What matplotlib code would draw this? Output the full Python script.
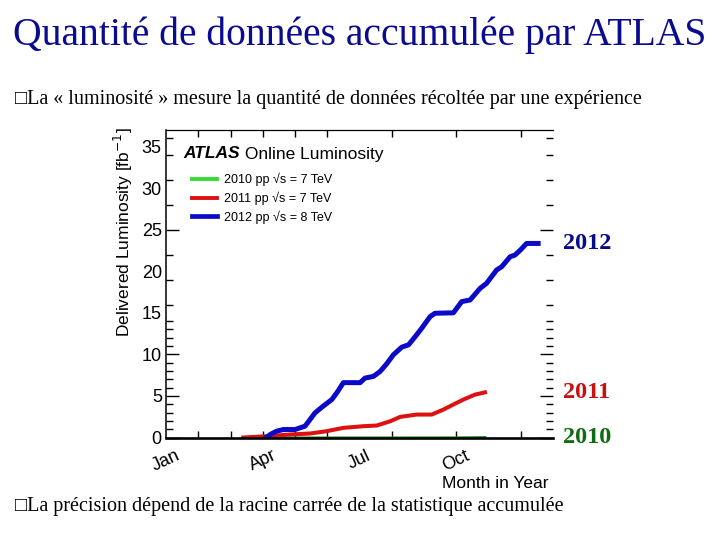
import numpy as np
import matplotlib.pyplot as plt

# month in year (0 = 1 Jan) and delivered luminosity [fb^-1]
month_2010 = [2.95, 4.5, 6.0, 7.5, 8.5, 9.3, 9.9]
lumi_2010 = [0.0, 0.0001, 0.001, 0.003, 0.008, 0.02, 0.048]

month_2011 = [2.40, 3.12, 3.84, 4.47, 4.98, 5.50, 6.12, 6.53, 6.95, 7.26,
              7.77, 8.24, 8.60, 9.01, 9.22, 9.58, 9.89]
lumi_2011 = [0.0, 0.15, 0.36, 0.48, 0.76, 1.16, 1.36, 1.44, 1.95, 2.48,
             2.76, 2.76, 3.36, 4.16, 4.56, 5.16, 5.43]

month_2012 = [3.10, 3.25, 3.43, 3.64, 4.00, 4.31, 4.62, 4.85, 5.14, 5.30,
              5.50, 6.02, 6.17, 6.43, 6.64, 6.85, 7.05, 7.31, 7.52, 7.72,
              7.93, 8.19, 8.34, 8.91, 9.17, 9.43, 9.74, 9.94, 10.25, 10.41,
              10.67, 10.82, 11.00, 11.18, 11.54]
lumi_2012 = [0.0, 0.4, 0.76, 0.96, 0.96, 1.36, 2.96, 3.7, 4.56, 5.4,
             6.6, 6.6, 7.15, 7.35, 7.95, 8.9, 9.95, 10.87, 11.15, 12.1,
             13.15, 14.55, 14.95, 15.0, 16.35, 16.55, 17.95, 18.55, 20.15, 20.55,
             21.75, 21.95, 22.6, 23.35, 23.35]

month_labels = ['Jan', 'Apr', 'Jul', 'Oct']
y_labels = [0, 5, 10, 15, 20, 25, 30, 35]

serif = ['Liberation Serif', 'DejaVu Serif']
sans = ['Liberation Sans', 'DejaVu Sans']

fig = plt.figure(figsize=(7.2, 5.4), dpi=100)
fig.patch.set_facecolor('white')

# slide text
fig.text(0.5, 1 - 35/540, 'Quantité de données accumulée par ATLAS',
         ha='center', va='center', fontsize=28.5, family=serif, color='#0b0b8f')
fig.text(15/720, 1 - 100/540,
         '\u25a1La « luminosité » mesure la quantité de données récoltée par une expérience',
         ha='left', va='center', fontsize=14.5, family=['Liberation Serif', 'DejaVu Sans'])
fig.text(15/720, 1 - 507/540,
         '\u25a1La précision dépend de la racine carrée de la statistique accumulée',
         ha='left', va='center', fontsize=14.5, family=['Liberation Serif', 'DejaVu Sans'])

ax = fig.add_axes([166/720, 1 - 437.5/540, 387/720, 307.5/540])

l10, = ax.plot(month_2010, lumi_2010, color='#1e8c1e', lw=1.5,
               label='2010 pp \u221as = 7 TeV')
l11, = ax.plot(month_2011, lumi_2011, color='#dd1111', lw=2.9,
               label='2011 pp \u221as = 7 TeV')
l12, = ax.plot(month_2012, lumi_2012, color='#0a0ac8', lw=3.6,
               label='2012 pp \u221as = 8 TeV')

ax.set_xlim(0, 12)
ax.set_ylim(0, 37)

# axes frame
ax.spines['right'].set_visible(False)
ax.spines['bottom'].set_linewidth(1.9)
ax.spines['left'].set_linewidth(1.1)
ax.spines['top'].set_linewidth(0.9)

# y ticks: labels every 5, marks where the original has them
ax.set_yticks(y_labels)
ax.set_yticklabels([str(v) for v in y_labels], family=sans, fontsize=13)
ax.set_yticks([1, 2, 3, 4, 6, 7, 8, 9, 11, 12, 13, 14, 16, 19, 22, 28, 31, 34, 36],
              minor=True)
ax.tick_params(axis='y', which='major', direction='in', length=9.5, width=1,
               left=True, right=True, pad=3)
ax.tick_params(axis='y', which='minor', direction='in', length=5, width=1,
               left=True, right=True)
for v, t in zip(y_labels, ax.yaxis.get_major_ticks()):
    if v in (15, 20, 30, 35):
        t.tick1line.set_visible(False)
        t.tick2line.set_visible(False)

# x ticks: month boundaries
ax.set_xticks([0, 3, 6, 9])
ax.set_xticklabels(month_labels, family=sans, fontsize=13, rotation=25)
ax.set_xticks([1, 2, 4, 5, 7, 11], minor=True)
ax.tick_params(axis='x', which='both', direction='in', length=5, width=1,
               bottom=True, top=True, pad=7)
for m, t in zip([0, 3, 6, 9], ax.xaxis.get_major_ticks()):
    if m in (0, 6):
        t.tick1line.set_visible(False)
        t.tick2line.set_visible(False)

ax.set_ylabel('Delivered Luminosity [fb$^{-1}$]', family=sans, fontsize=12.5,
              loc='top')
ax.yaxis.set_label_coords(-31/387, 1.01)
ax.set_xlabel('Month in Year', family=sans, fontsize=12.5, loc='right')
ax.xaxis.set_label_coords(1 - 5/387, -38/307.5)

# ATLAS header and legend
t1 = ax.text(17/387, (437.5-154)/307.5, 'ATLAS', transform=ax.transAxes,
             family=sans, fontsize=12.5, weight='bold', style='italic',
             va='center', ha='left')
ax.annotate(' Online Luminosity', xy=(1, 0.5), xycoords=t1, va='center',
            ha='left', family=sans, fontsize=12.5)

leg = ax.legend(handles=[l10, l11, l12], loc='upper left',
                bbox_to_anchor=(26/387, (437.5-173)/307.5), frameon=False,
                prop={'family': sans, 'size': 9}, handlelength=2.0,
                handletextpad=0.6, labelspacing=0.42, borderpad=0,
                borderaxespad=0)
leg_lines = leg.get_lines()
leg_lines[0].set_color('#33dd33')
for ln, w in zip(leg_lines, [2.8, 2.8, 3.4]):
    ln.set_linewidth(w)

# year labels at the right, at the final value of each curve
for mo, lu, name, col in [(month_2012, lumi_2012, '2012', '#0a0a8c'),
                          (month_2011, lumi_2011, '2011', '#c81010'),
                          (month_2010, lumi_2010, '2010', '#0f6b0f')]:
    ax.text(12.31, lu[-1], name, family=serif, fontsize=17.5, weight='bold',
            color=col, va='center', ha='left', clip_on=False)

fig.savefig('out.png', dpi=100)
